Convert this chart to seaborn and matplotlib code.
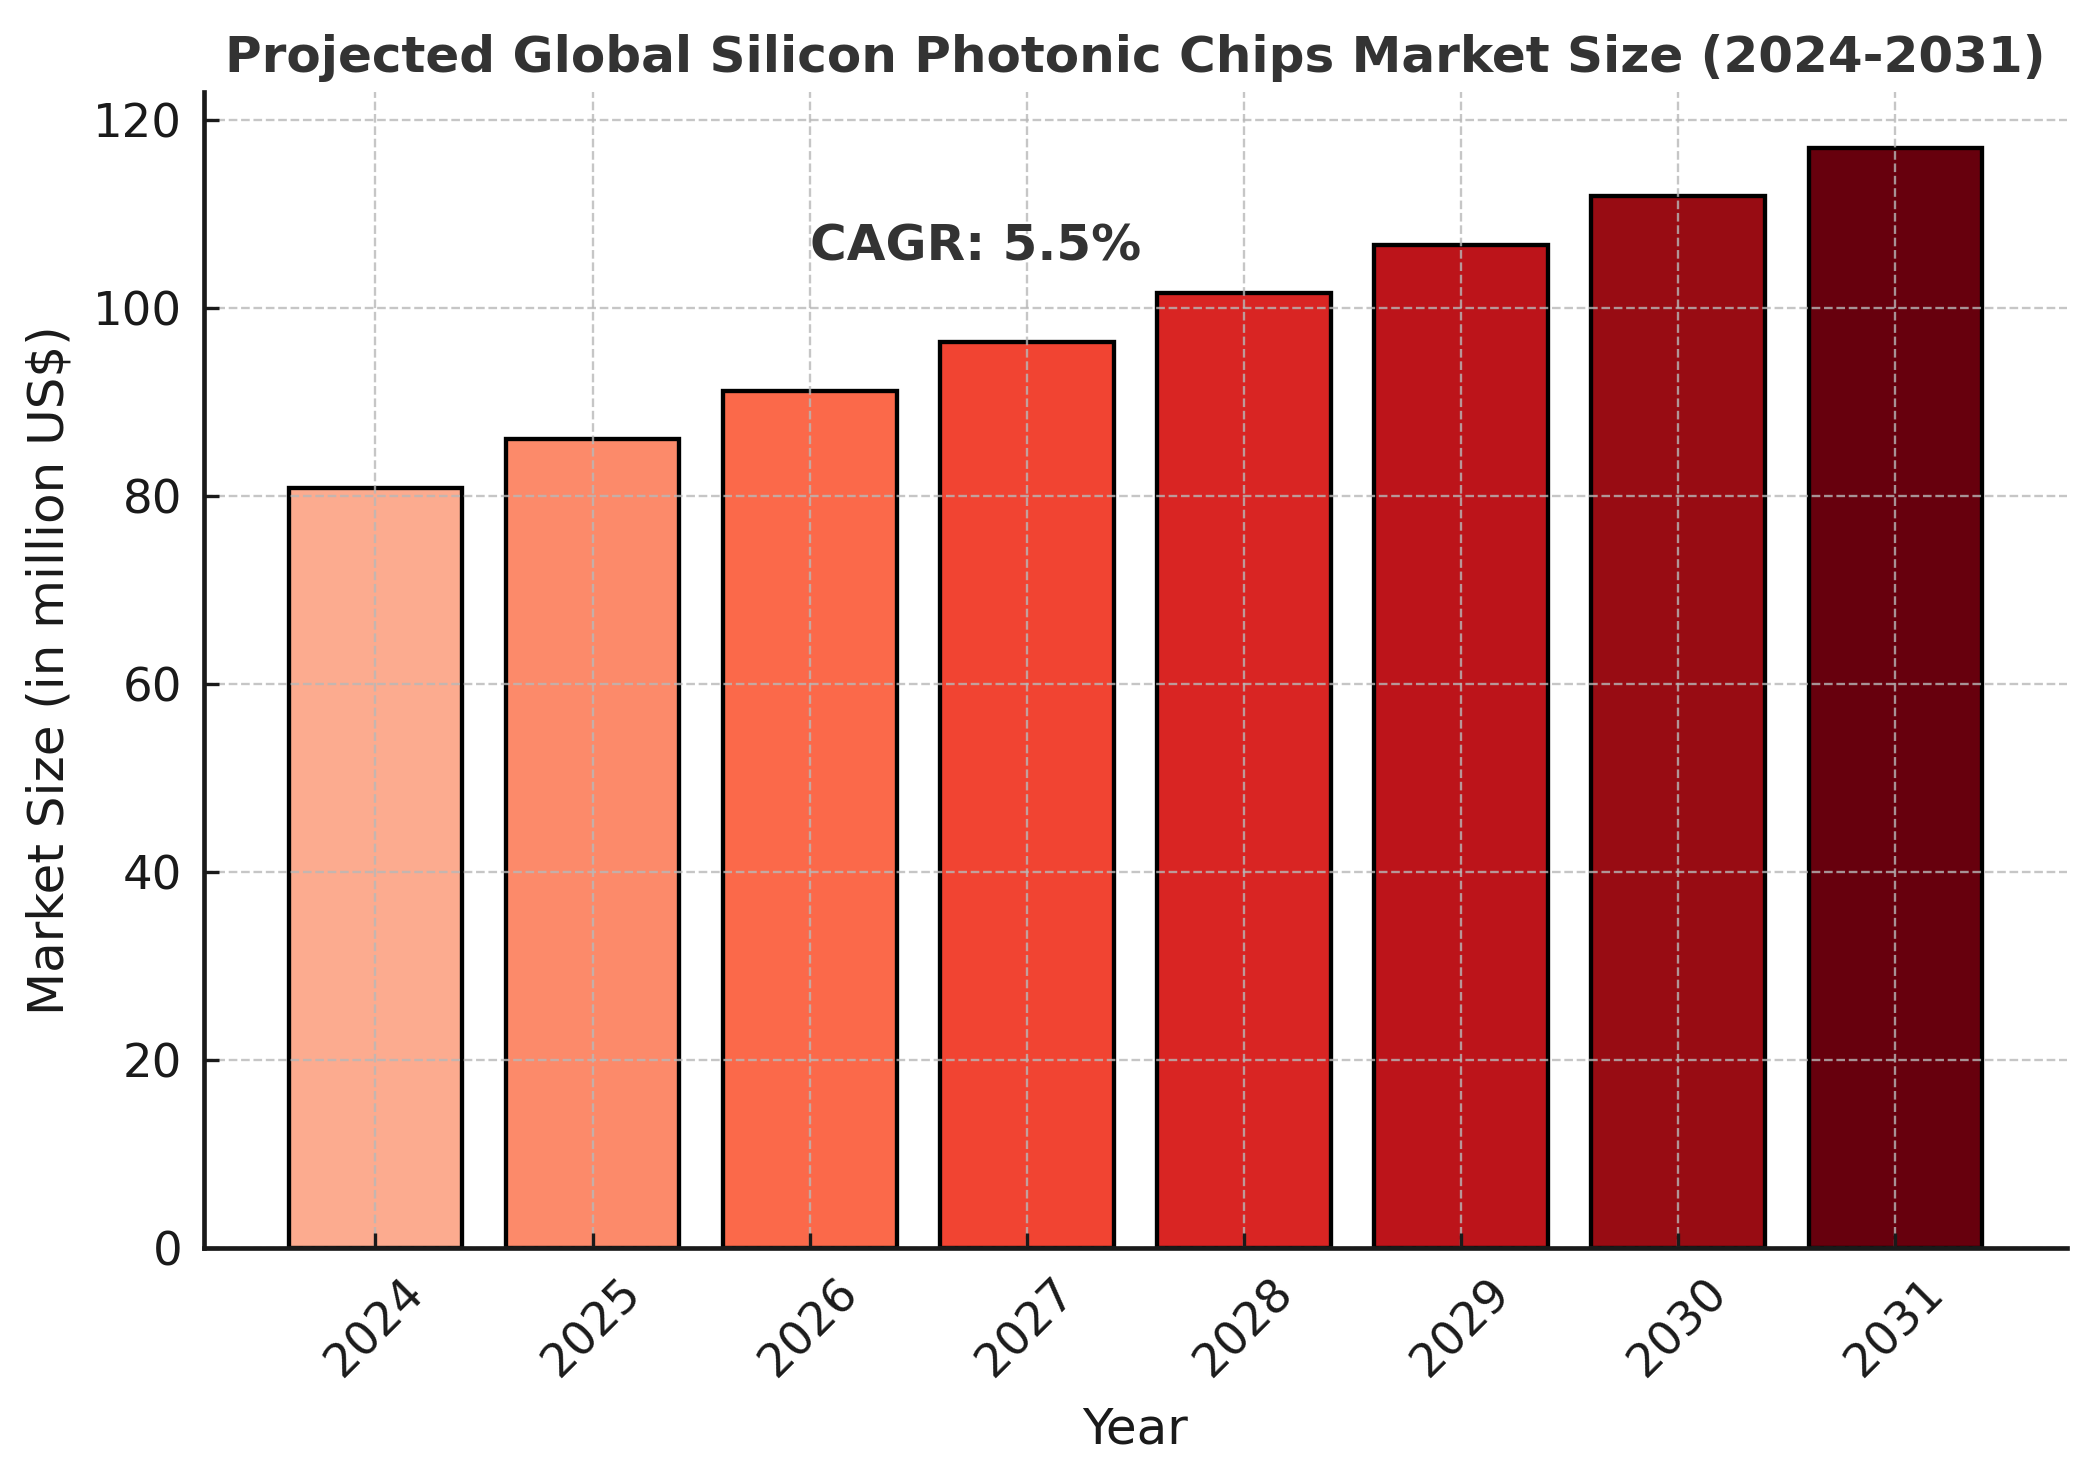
import numpy as np
import matplotlib
matplotlib.use('Agg')
import matplotlib.pyplot as plt
import seaborn as sns

# Data
years = ['2024', '2025', '2026', '2027', '2028', '2029', '2030', '2031']
market_size = [80.8, 86.0, 91.2, 96.4, 101.6, 106.7, 111.9, 117.0]
cagr_text = 'CAGR: 5.5%'

# Reds colormap, light to dark
colors = plt.cm.Reds(np.linspace(0.3, 1, len(years)))

fig = plt.figure(figsize=(2094 / 240, 1481 / 240), dpi=240)
ax = fig.add_axes([0.0974, 0.1573, 0.8897, 0.7809])

sns.barplot(x=years, y=market_size, hue=years, palette=list(colors),
            legend=False, saturation=1, width=0.8,
            edgecolor='black', linewidth=1.3, ax=ax)

# grid on top of bars, dashed
ax.set_axisbelow(False)
ax.grid(True, linestyle='--', color='#b8b8b8', linewidth=0.7, alpha=0.8)
ax.set_xlim(-0.79, 7.79)
ax.set_ylim(0, 123.0)

ax.spines['top'].set_visible(False)
ax.spines['right'].set_visible(False)
for s in ['left', 'bottom']:
    ax.spines[s].set_linewidth(1.4)
    ax.spines[s].set_color('#1a1a1a')
    ax.spines[s].set_zorder(5)

ax.tick_params(direction='in', length=4.5, width=1.0, pad=6.5,
               labelsize=14, colors='#1a1a1a')
plt.setp(ax.get_xticklabels(), rotation=45, ha='center')

ax.set_title('Projected Global Silicon Photonic Chips Market Size (2024-2031)',
             fontsize=15, fontweight='bold', color='#333333', pad=6)
ax.set_xlabel('Year', fontsize=15, color='#1a1a1a', labelpad=6)
ax.set_ylabel('Market Size (in million US$)', fontsize=15, color='#1a1a1a', labelpad=6)

ax.text(2, 105, cagr_text, fontsize=15, fontweight='bold', color='#333333')

fig.savefig('out.png', dpi=240)
